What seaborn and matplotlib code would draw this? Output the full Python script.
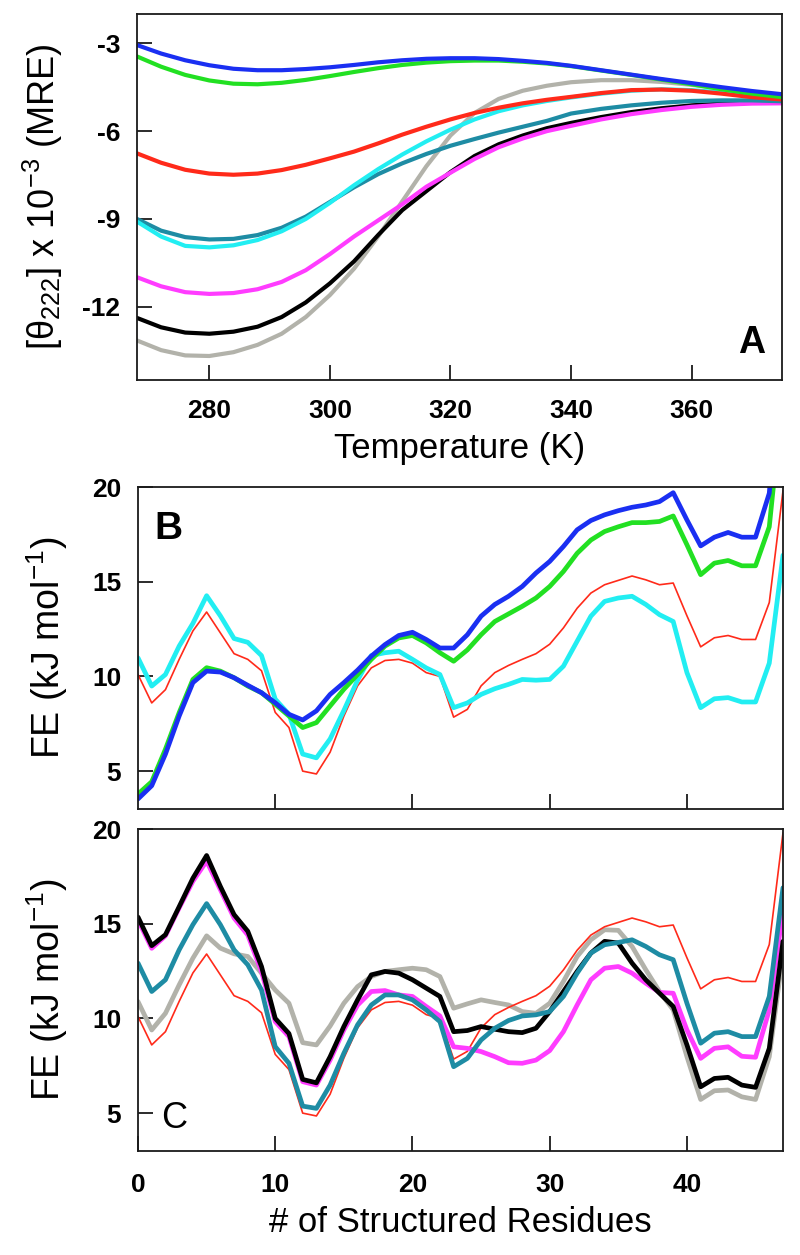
import matplotlib
matplotlib.use("Agg")
import matplotlib.pyplot as plt
import seaborn as sns

# ---------------- Panel A data: temperature melts ----------------
T_K = [268, 272, 276, 280, 284, 288, 292, 296, 300, 304, 308, 312, 316, 320,
       324, 328, 332, 336, 340, 345, 350, 355, 360, 365, 370, 375]
A_blue = [-3.06, -3.35, -3.58, -3.75, -3.87, -3.92, -3.92, -3.88, -3.82, -3.74, -3.65, -3.58, -3.53,
          -3.51, -3.51, -3.54, -3.60, -3.67, -3.77, -3.92, -4.07, -4.22, -4.36, -4.50, -4.63, -4.74]
A_green = [-3.45, -3.80, -4.08, -4.27, -4.38, -4.40, -4.35, -4.25, -4.12, -3.98, -3.85, -3.74, -3.66,
           -3.61, -3.59, -3.59, -3.63, -3.69, -3.78, -3.93, -4.08, -4.24, -4.40, -4.57, -4.72, -4.84]
A_red = [-6.76, -7.08, -7.32, -7.45, -7.49, -7.45, -7.33, -7.15, -6.93, -6.70, -6.42, -6.12, -5.85,
         -5.60, -5.38, -5.20, -5.05, -4.93, -4.83, -4.70, -4.60, -4.58, -4.62, -4.72, -4.84, -4.92]
A_cyan = [-9.09, -9.60, -9.92, -9.97, -9.90, -9.72, -9.42, -9.00, -8.45, -7.85, -7.30, -6.80, -6.35,
          -5.95, -5.60, -5.32, -5.12, -4.97, -4.85, -4.72, -4.62, -4.57, -4.60, -4.68, -4.78, -4.88]
A_teal = [-9.00, -9.40, -9.62, -9.70, -9.68, -9.55, -9.30, -8.92, -8.42, -7.92, -7.47, -7.10, -6.78,
          -6.50, -6.27, -6.05, -5.85, -5.65, -5.40, -5.24, -5.12, -5.03, -4.97, -4.95, -4.95, -4.98]
A_magenta = [-10.99, -11.30, -11.50, -11.56, -11.53, -11.40, -11.15, -10.75, -10.20, -9.60, -9.05, -8.50, -7.90,
             -7.42, -6.95, -6.55, -6.25, -6.00, -5.82, -5.60, -5.42, -5.28, -5.17, -5.10, -5.06, -5.05]
A_black = [-12.38, -12.70, -12.88, -12.92, -12.85, -12.68, -12.35, -11.85, -11.20, -10.45, -9.55, -8.70, -8.05,
           -7.40, -6.85, -6.45, -6.15, -5.90, -5.72, -5.52, -5.35, -5.22, -5.12, -5.06, -5.03, -5.03]
A_gray = [-13.15, -13.48, -13.66, -13.68, -13.55, -13.30, -12.92, -12.35, -11.60, -10.70, -9.60, -8.40, -7.20,
          -6.15, -5.38, -4.90, -4.62, -4.45, -4.33, -4.26, -4.26, -4.32, -4.42, -4.55, -4.70, -4.84]

# ---------------- Panels B/C data: free-energy profiles ----------------
RES = list(range(48))
FE_red = [10.1, 8.6, 9.3, 10.9, 12.4, 13.4, 12.3, 11.2, 10.9, 10.3,
          8.1, 7.3, 5.0, 4.85, 6.0, 7.9, 9.5, 10.45, 10.84, 10.9,
          10.7, 10.2, 10.0, 7.85, 8.26, 9.5, 10.2, 10.58, 10.9, 11.2,
          11.7, 12.56, 13.6, 14.4, 14.84, 15.07, 15.3, 15.1, 14.84, 14.93,
          13.2, 11.56, 12.04, 12.16, 11.95, 11.95, 13.9, 19.8]
B_cyan = [10.98, 9.49, 10.1, 11.6, 12.8, 14.26, 13.2, 12.0, 11.8, 11.1,
          8.8, 8.0, 5.9, 5.7, 6.7, 8.2, 9.8, 11.1, 11.25, 11.33,
          10.9, 10.45, 10.1, 8.35, 8.6, 9.05, 9.35, 9.58, 9.84, 9.8,
          9.84, 10.54, 11.86, 13.18, 13.96, 14.14, 14.23, 13.8, 13.26, 12.9,
          10.2, 8.35, 8.82, 8.88, 8.65, 8.65, 10.7, 16.4]
B_green = [3.79, 4.44, 6.16, 8.09, 9.84, 10.46, 10.28, 9.93, 9.49, 9.14,
           8.53, 7.91, 7.3, 7.56, 8.44, 9.32, 10.1, 10.9, 11.6, 12.03,
           12.16, 11.77, 11.25, 10.8, 11.4, 12.2, 12.9, 13.3, 13.7, 14.14,
           14.75, 15.54, 16.5, 17.2, 17.65, 17.9, 18.12, 18.12, 18.18, 18.47,
           16.95, 15.37, 15.98, 16.12, 15.84, 15.84, 17.9, 25.0]
B_blue = [3.53, 4.23, 5.9, 7.91, 9.67, 10.28, 10.23, 9.93, 9.53, 9.14,
          8.61, 8.0, 7.7, 8.18, 9.05, 9.67, 10.33, 11.07, 11.68, 12.16,
          12.33, 11.95, 11.5, 11.5, 12.2, 13.18, 13.8, 14.23, 14.75, 15.46,
          16.07, 16.86, 17.74, 18.23, 18.53, 18.75, 18.93, 19.05, 19.23, 19.7,
          18.26, 16.89, 17.35, 17.6, 17.35, 17.35, 19.67, 28.0]
C_black = [15.35, 13.84, 14.42, 15.9, 17.4, 18.6, 16.97, 15.48, 14.6, 12.74,
           10.0, 9.2, 6.78, 6.6, 7.98, 9.57, 10.98, 12.3, 12.48, 12.39,
           12.04, 11.6, 11.16, 9.3, 9.36, 9.57, 9.43, 9.3, 9.25, 9.48,
           10.36, 11.42, 12.48, 13.45, 14.07, 13.98, 12.92, 12.04, 11.33, 10.63,
           8.6, 6.39, 6.83, 6.89, 6.48, 6.36, 8.42, 14.07]
C_magenta = [15.2, 13.7, 14.36, 15.83, 17.24, 18.3, 16.8, 15.3, 14.4, 12.48,
             9.83, 9.04, 6.66, 6.48, 7.8, 9.39, 10.7, 11.42, 11.47, 11.24,
             11.16, 10.63, 10.13, 8.5, 8.42, 8.25, 7.98, 7.66, 7.63, 7.8,
             8.3, 9.3, 10.71, 12.04, 12.65, 12.74, 12.39, 11.86, 11.37, 11.33,
             9.39, 7.89, 8.42, 8.5, 8.0, 7.95, 10.45, 15.74]
C_teal = [12.92, 11.42, 12.04, 13.62, 14.95, 16.06, 14.95, 13.62, 12.83, 11.5,
          8.51, 7.63, 5.37, 5.25, 6.48, 8.16, 9.66, 10.71, 11.24, 11.24,
          10.98, 10.45, 9.83, 7.45, 7.89, 8.86, 9.48, 9.89, 10.13, 10.19,
          10.36, 11.16, 12.39, 13.45, 13.89, 14.01, 14.15, 13.8, 13.36, 13.1,
          10.8, 8.69, 9.22, 9.3, 9.04, 9.04, 11.16, 16.9]
C_gray = [10.89, 9.39, 10.27, 11.77, 13.18, 14.36, 13.71, 13.41, 13.27, 12.39,
          11.5, 10.8, 8.72, 8.6, 9.6, 10.8, 11.68, 12.21, 12.48, 12.57,
          12.65, 12.57, 12.21, 10.54, 10.77, 10.98, 10.84, 10.71, 10.36, 10.27,
          10.8, 11.95, 13.27, 14.15, 14.68, 14.65, 13.8, 12.57, 11.42, 10.45,
          7.98, 5.72, 6.18, 6.22, 5.86, 5.72, 7.98, 13.45]

A_xticks = [280, 300, 320, 340, 360]
A_yticks = [-3, -6, -9, -12]
FE_yticks = [5, 10, 15, 20]
RES_xticks = [0, 10, 20, 30, 40]

COL = {"blue": "#1a2ff2", "green": "#22e022", "red": "#ff2a1a", "cyan": "#22eef2",
       "teal": "#1e8ca4", "magenta": "#ff3cff", "black": "#000000", "gray": "#b2b2aa"}

sns.set_style("ticks")
plt.rcParams['font.family'] = ['Liberation Sans', 'DejaVu Sans']
plt.rcParams['mathtext.fontset'] = 'custom'
plt.rcParams['mathtext.rm'] = 'Liberation Sans'
plt.rcParams['mathtext.it'] = 'Liberation Sans:italic'
plt.rcParams['mathtext.bf'] = 'Liberation Sans:bold'
plt.rcParams['text.color'] = 'black'
plt.rcParams['axes.labelcolor'] = 'black'
plt.rcParams['xtick.color'] = 'black'
plt.rcParams['ytick.color'] = 'black'

fig = plt.figure(figsize=(8, 12.55), dpi=100)
axA = fig.add_axes([0.17125, 0.69721, 0.80625, 0.29163])
axB = fig.add_axes([0.1725, 0.35538, 0.80625, 0.25657])
axC = fig.add_axes([0.1725, 0.08287, 0.80625, 0.25657])

# Panel A
for ys, c in [(A_gray, "gray"), (A_black, "black"), (A_magenta, "magenta"), (A_teal, "teal"),
              (A_cyan, "cyan"), (A_red, "red"), (A_green, "green"), (A_blue, "blue")]:
    sns.lineplot(x=T_K, y=ys, color=COL[c], linewidth=3.0, ax=axA)

# Panel B
sns.lineplot(x=RES, y=FE_red, color=COL["red"], linewidth=1.2, ax=axB)
for ys, c in [(B_cyan, "cyan"), (B_green, "green"), (B_blue, "blue")]:
    sns.lineplot(x=RES, y=ys, color=COL[c], linewidth=3.4, ax=axB)

# Panel C
sns.lineplot(x=RES, y=C_gray, color=COL["gray"], linewidth=3.4, ax=axC)
sns.lineplot(x=RES, y=FE_red, color=COL["red"], linewidth=1.2, ax=axC)
for ys, c in [(C_magenta, "magenta"), (C_black, "black"), (C_teal, "teal")]:
    sns.lineplot(x=RES, y=ys, color=COL[c], linewidth=3.4, ax=axC)


def style(ax):
    for s in ax.spines.values():
        s.set_visible(True)
        s.set_linewidth(1.3)
        s.set_color("#1a1a1a")
    ax.tick_params(direction="in", length=11, width=1.3, color="#1a1a1a",
                   labelcolor="black", top=False, right=False, labelsize=19)
    ax.tick_params(axis="x", pad=14)
    ax.tick_params(axis="y", pad=12)


axA.set_xlim(268, 375)
axA.set_ylim(-14.5, -2)
axA.set_xticks(A_xticks, [str(v) for v in A_xticks], fontweight="bold")
axA.set_yticks(A_yticks, [str(v) for v in A_yticks], fontweight="bold")
style(axA)
axA.set_xlabel("Temperature (K)", fontsize=25, labelpad=6)
axA.set_ylabel(r"[θ$_{222}$] x 10$^{-3}$ (MRE)", fontsize=26, va="center")
axA.yaxis.set_label_coords(-0.1457, 0.5)
axA.text(0.974, 0.074, "A", transform=axA.transAxes, ha="right", va="baseline",
         fontsize=27, fontweight="bold")

for ax in (axB, axC):
    ax.set_xlim(0, 47)
    ax.set_ylim(3, 20)
    ax.set_yticks(FE_yticks, [str(v) for v in FE_yticks], fontweight="bold")
    style(ax)
    ax.set_ylabel(r"FE (kJ mol$^{-1}$)", fontsize=27, va="center")
    ax.yaxis.set_label_coords(-0.140, 0.5)

axB.set_xticks(RES_xticks[1:], [])
axC.set_xticks(RES_xticks, [str(v) for v in RES_xticks], fontweight="bold")
axC.tick_params(axis="x", pad=16)
axC.set_xlabel("# of Structured Residues", fontsize=25, labelpad=6)

axB.text(0.026, 0.839, "B", transform=axB.transAxes, ha="left", va="baseline",
         fontsize=28, fontweight="bold")
axC.text(0.036, 0.071, "C", transform=axC.transAxes, ha="left", va="baseline",
         fontsize=26)

fig.savefig("out.png", dpi=100)
